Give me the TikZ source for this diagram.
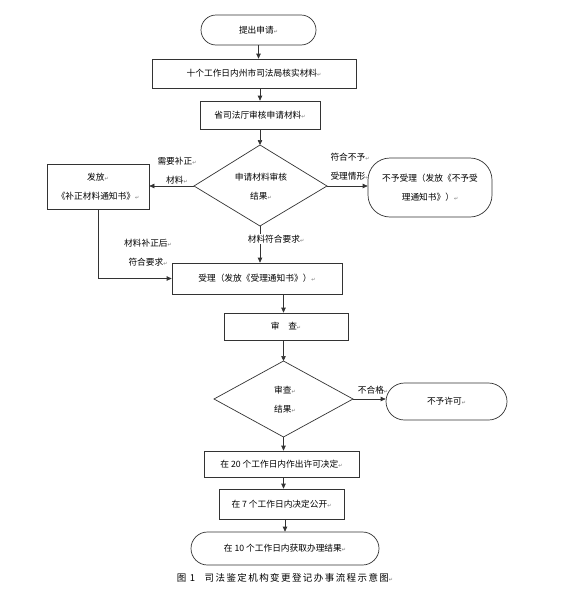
\documentclass[tikz,border=0pt]{standalone}
\usepackage{fontspec}
\setmainfont{Noto Sans CJK SC}
\newfontfamily\dejavu{DejaVu Sans}
\usetikzlibrary{arrows.meta}
\newcommand\rmk{{\dejavu\fontsize{5}{5}\selectfont\textcolor{black!55}{↵}}}
\begin{document}
\begin{tikzpicture}[x=1pt,y=-1pt,
  every node/.style={font=\fontsize{8.7}{19}\selectfont, text=black},
  box/.style={draw=black!80, line width=0.7pt, rectangle, inner sep=0pt, align=center},
  lbl/.style={inner sep=1pt, align=center},
  arr/.style={draw=black!80, line width=0.7pt, -{Triangle[length=5pt,width=4.5pt]}},
  ln/.style={draw=black!80, line width=0.7pt}]
\useasboundingbox (0,0) rectangle (565,600);
\fill[white] (0,0) rectangle (565,600);

% top column
\node[box, minimum width=115pt, minimum height=30pt, rounded corners=15pt] (start) at (258.5,30) {提出申请\rmk};
\node[box, minimum width=204pt, minimum height=29pt] (b1) at (254,73.5) {十个工作日内州市司法局核实材料\rmk};
\node[box, minimum width=120pt, minimum height=28pt] (b2) at (260,115) {省司法厅审核申请材料\rmk};

% diamond 1
\coordinate (d1) at (260,186);
\coordinate (d1t) at (260,145);
\coordinate (d1r) at (327,186);
\coordinate (d1b) at (260,226);
\coordinate (d1l) at (194,186);
\draw[ln] (d1t) -- (d1r) -- (d1b) -- (d1l) -- cycle;
\node[lbl] (d1txt) at (261,187) {申请材料审核\\结果\rmk};

% side boxes
\node[box, minimum width=102pt, minimum height=45pt] (nb) at (98,186.5) {发放\rmk\\《补正材料通知书》\rmk};
\node[box, minimum width=124pt, minimum height=59pt, rounded corners=22pt] (nr) at (430,187.5) {不予受理（发放《不予受\\理通知书》）\rmk};

% box 3
\node[box, minimum width=170pt, minimum height=31pt] (b3) at (257,278.5) {受理（发放《受理通知书》）\rmk};

% review
\node[box, minimum width=124pt, minimum height=27pt] (sc) at (286,326.5) {审\quad 查\rmk};

% diamond 2
\coordinate (d2) at (283.5,399);
\coordinate (d2t) at (283.5,361);
\coordinate (d2r) at (353,399);
\coordinate (d2b) at (283.5,437);
\coordinate (d2l) at (214,399);
\draw[ln] (d2t) -- (d2r) -- (d2b) -- (d2l) -- cycle;
\node[lbl] (d2txt) at (285,400) {审查\rmk\\结果\rmk};

\node[box, minimum width=121pt, minimum height=37pt, rounded corners=18.5pt] (nx) at (446.5,401.5) {不予许可\rmk};

\node[box, minimum width=155pt, minimum height=26pt] (p20) at (281.5,464) {在 20 个工作日内作出许可决定\rmk};
\node[box, minimum width=125pt, minimum height=30pt] (p7) at (281.5,504) {在 7 个工作日内决定公开\rmk};
\node[box, minimum width=188pt, minimum height=33pt, rounded corners=16.5pt] (end) at (285,548.5) {在 10 个工作日内获取办理结果\rmk};

\node[lbl, font=\fontsize{9.5}{12}\selectfont\addfontfeature{LetterSpace=15}] (cap) at (285,578) {图 1\quad 司法鉴定机构变更登记办事流程示意图\rmk};

% connectors
\draw[arr] (start.south) -- (start.south |- b1.north);
\draw[arr] (b2.north |- b1.south) -- (b2.north);
\draw[arr] (b2.south) -- (d1t);
\draw[arr] (d1l) -- (d1l -| nb.east);
\draw[arr] (d1r) -- (d1r -| nr.west);
\draw[arr] (d1b) -- (d1b |- b3.north);
\draw[arr] (nb.south) |- (b3.west);
\draw[arr] (b3.south -| d2) -- (d2 |- sc.north);
\draw[arr] (d2 |- sc.south) -- (d2t);
\draw[arr] (d2r) -- (d2r -| nx.west);
\draw[arr] (d2b) -- (d2b |- p20.north);
\draw[arr] (p20.south -| d2) -- (d2 |- p7.north);
\draw[arr] (p7.south -| end) -- (end.north);

% labels
\node[lbl] (l1) at (177,170.5) {需要补正\rmk\\材料\rmk};
\node[lbl] (l2) at (350,167) {符合不予\rmk\\受理情形\rmk};
\node[lbl, fill=white] (l3) at (276,239) {材料符合要求\rmk};
\node[lbl] (l4) at (148,253) {材料补正后\rmk\\符合要求\rmk};
\node[lbl] (l5) at (373,390) {不合格\rmk};
\end{tikzpicture}
\end{document}
